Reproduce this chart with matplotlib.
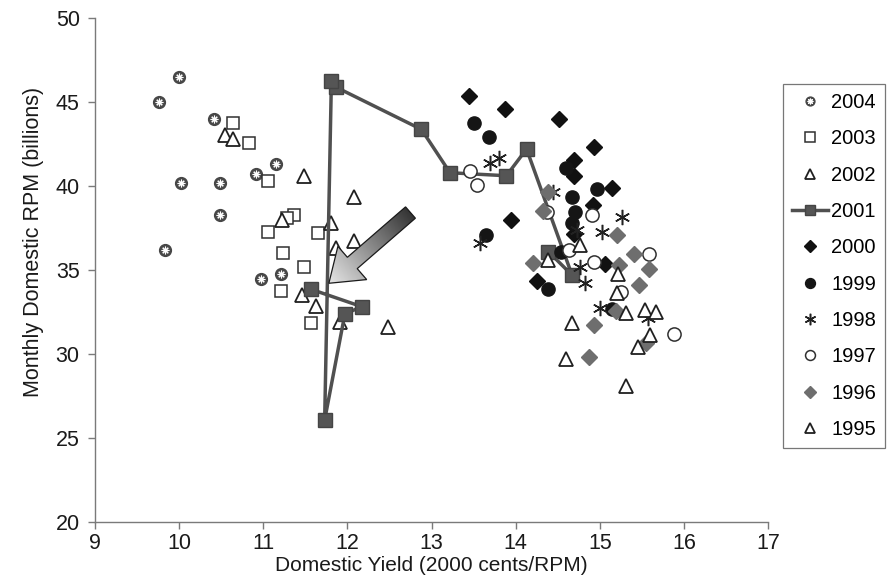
import numpy as np
import matplotlib
matplotlib.use("Agg")
import matplotlib.pyplot as plt
from matplotlib.patches import Polygon
from matplotlib.legend_handler import HandlerTuple

plt.rcParams['font.family'] = ['Liberation Sans', 'DejaVu Sans']

# ---------------- data (yield in 2000 cents/RPM, RPM in billions) ----------------
yield_2004 = [10.0, 9.76, 10.41, 11.15, 10.91, 10.02, 10.48, 10.48, 9.83, 11.21, 10.97]
rpm_2004 = [46.5, 45.0, 44.0, 41.3, 40.7, 40.2, 40.2, 38.3, 36.2, 34.76, 34.45]

yield_2003 = [10.64, 10.83, 11.06, 11.37, 11.28, 11.06, 11.65, 11.23, 11.49, 11.21, 11.57]
rpm_2003 = [43.77, 42.58, 40.3, 38.27, 38.07, 37.28, 37.18, 36.03, 35.2, 33.77, 31.86]

yield_2002 = [10.55, 10.64, 11.48, 12.08, 11.22, 11.81, 12.08, 11.87, 11.46, 11.63, 11.91, 12.48]
rpm_2002 = [43.04, 42.78, 40.6, 39.36, 37.98, 37.8, 36.7, 36.29, 33.51, 32.86, 31.92, 31.63]

yield_2001 = [14.39, 14.67, 14.13, 13.89, 13.22, 12.88, 11.87, 11.81, 11.73, 11.97, 12.17, 11.57]
rpm_2001 = [36.09, 34.7, 42.2, 40.61, 40.79, 43.37, 45.87, 46.27, 26.07, 32.38, 32.82, 33.85]

yield_2000 = [13.45, 13.87, 14.52, 14.93, 14.69, 14.69, 15.14, 14.92, 13.95, 14.69, 15.06, 14.26]
rpm_2000 = [45.38, 44.57, 43.99, 42.34, 41.55, 40.6, 39.9, 38.87, 38.0, 37.15, 35.35, 34.35]

yield_1999 = [13.51, 13.68, 14.6, 14.97, 14.67, 14.71, 14.67, 13.65, 14.54, 14.39, 15.15]
rpm_1999 = [43.73, 42.94, 41.05, 39.8, 39.36, 38.47, 37.78, 37.08, 36.09, 33.87, 32.66]

yield_1998 = [13.70, 13.80, 14.44, 13.58, 15.27, 15.03, 14.73, 14.77, 14.83, 15.0, 15.57]
rpm_1998 = [41.35, 41.65, 39.66, 36.59, 38.17, 37.28, 37.4, 35.2, 34.2, 32.72, 32.13]

yield_1997 = [13.46, 13.54, 14.37, 14.91, 14.63, 14.93, 15.59, 15.25, 15.88]
rpm_1997 = [40.91, 40.06, 38.47, 38.27, 36.19, 35.5, 35.95, 33.7, 31.2]

yield_1996 = [14.38, 14.32, 14.21, 15.21, 15.41, 15.59, 15.23, 15.47, 15.19, 14.93, 14.87, 15.55]
rpm_1996 = [39.66, 38.53, 35.4, 37.08, 35.95, 35.03, 35.3, 34.1, 32.58, 31.73, 29.84, 30.63]

yield_1995 = [14.38, 14.77, 15.22, 15.2, 15.31, 15.54, 15.67, 14.67, 15.6, 15.46, 14.6, 15.31]
rpm_1995 = [35.6, 36.49, 34.75, 33.61, 32.46, 32.62, 32.52, 31.86, 31.13, 30.4, 29.68, 28.1]

labels = ['2004', '2003', '2002', '2001', '2000', '1999', '1998', '1997', '1996', '1995']
x_ticks = [9, 10, 11, 12, 13, 14, 15, 16, 17]
y_ticks = [20, 25, 30, 35, 40, 45, 50]

# arrow annotation (tail -> tip), in data coords
arrow_tail = (12.75, 38.42)
arrow_tip = (11.78, 34.21)

# ---------------- figure ----------------
fig = plt.figure(figsize=(8.88, 5.81), dpi=100)
ax = fig.add_axes([95 / 888, 1 - 522 / 581, 673 / 888, 504 / 581])

axis_gray = '#7a7a7a'
for s in ['top', 'right']:
    ax.spines[s].set_visible(False)
for s in ['left', 'bottom']:
    ax.spines[s].set_color(axis_gray)
    ax.spines[s].set_linewidth(1.0)
ax.tick_params(axis='both', direction='out', length=5, width=1, color=axis_gray,
               labelsize=15.5, labelcolor='#1a1a1a')
ax.tick_params(axis='x', pad=3)
ax.tick_params(axis='y', pad=6)

ms = 9.0
handles = []

# 2004
h1 = ax.plot(yield_2004, rpm_2004, ls='none', marker='o', ms=8.5, mfc='#474747', mec='#474747', zorder=3)[0]
h2 = ax.plot(yield_2004, rpm_2004, ls='none', marker=(8, 2, 0), ms=5.5, mec='white', mew=0.8, zorder=3.1)[0]
handles.append((h1, h2))
# 2003
handles.append(ax.plot(yield_2003, rpm_2003, ls='none', marker='s', ms=ms, mfc='white', mec='#303030', mew=1.1, zorder=4)[0])
# 2002
handles.append(ax.plot(yield_2002, rpm_2002, ls='none', marker='^', ms=ms + 1, mfc='white', mec='#202020', mew=1.3, zorder=5)[0])
# 2001
handles.append(ax.plot(yield_2001, rpm_2001, ls='-', color='#505050', lw=2.5, marker='s', ms=ms + 0.5,
                       mfc='#555555', mec='#444444', zorder=6)[0])
# 2000
handles.append(ax.plot(yield_2000, rpm_2000, ls='none', marker='D', ms=8.5, mfc='#111111', mec='#111111', zorder=7)[0])
# 1999
handles.append(ax.plot(yield_1999, rpm_1999, ls='none', marker='o', ms=9.5, mfc='#151515', mec='#151515', zorder=8)[0])
# 1998
handles.append(ax.plot(yield_1998, rpm_1998, ls='none', marker=(6, 2, 0), ms=11, mec='#222222', mew=1.1, zorder=9)[0])
# 1997
handles.append(ax.plot(yield_1997, rpm_1997, ls='none', marker='o', ms=9.5, mfc='white', mec='#303030', mew=1.1, zorder=10)[0])
# 1996
handles.append(ax.plot(yield_1996, rpm_1996, ls='none', marker='D', ms=8, mfc='#6e6e6e', mec='#6e6e6e', zorder=11)[0])
# 1995
handles.append(ax.plot(yield_1995, rpm_1995, ls='none', marker='^', ms=ms + 1, mfc='white', mec='#202020', mew=1.3, zorder=12)[0])

ax.set_xlim(x_ticks[0], x_ticks[-1])
ax.set_ylim(y_ticks[0], y_ticks[-1])
ax.set_xticks(x_ticks)
ax.set_yticks(y_ticks)
ax.set_xlabel('Domestic Yield (2000 cents/RPM)', fontsize=15, color='#1a1a1a')
ax.xaxis.set_label_coords(0.5, -34 / 504)
ax.set_ylabel('Monthly Domestic RPM (billions)', fontsize=15.5, color='#1a1a1a')
ax.yaxis.set_label_coords(-51 / 673, 0.555)

# ---------------- gradient arrow ----------------
p0 = ax.transData.transform(arrow_tail)
p1 = ax.transData.transform(arrow_tip)
L = np.hypot(*(p1 - p0))
d = (p1 - p0) / L
n = np.array([-d[1], d[0]])
w, hw, hl = 15.0, 44.0, 31.0
neck = p1 - d * hl
poly_disp = np.array([
    p0 + n * w / 2, neck + n * w / 2, neck + n * hw / 2, p1,
    neck - n * hw / 2, neck - n * w / 2, p0 - n * w / 2])
poly_data = ax.transData.inverted().transform(poly_disp)
arrow_patch = Polygon(poly_data, closed=True, facecolor='none', edgecolor='#1a1a1a', lw=0.9, zorder=21)
ax.add_patch(arrow_patch)

xmin, ymin = poly_data.min(axis=0)
xmax, ymax = poly_data.max(axis=0)
gx = np.linspace(xmin, xmax, 200)
gy = np.linspace(ymax, ymin, 200)
GX, GY = np.meshgrid(gx, gy)
disp = ax.transData.transform(np.column_stack([GX.ravel(), GY.ravel()]))
t = ((disp - p0) @ d) / L
t = np.clip(t, 0, 1).reshape(GX.shape)
vals = 0.2 + 0.7 * t
img = ax.imshow(vals, extent=[xmin, xmax, ymin, ymax], cmap='gray', vmin=0, vmax=1,
                aspect='auto', zorder=20, interpolation='bilinear')
clip_patch = Polygon(poly_data, closed=True, transform=ax.transData)
img.set_clip_path(clip_patch)

ax.set_xlim(x_ticks[0], x_ticks[-1])
ax.set_ylim(y_ticks[0], y_ticks[-1])

# ---------------- legend ----------------
leg = fig.legend(handles, labels, loc='center left', bbox_to_anchor=(783 / 888, 1 - 266 / 581),
                 bbox_transform=fig.transFigure, fontsize=14.5, frameon=True, fancybox=False,
                 edgecolor='#555555', borderpad=0.45, labelspacing=0.86, handlelength=1.8,
                 handletextpad=0.15, borderaxespad=0, markerscale=0.75,
                 handler_map={tuple: HandlerTuple(ndivide=1, pad=0)})
leg.get_frame().set_linewidth(0.9)

fig.savefig('out.png', dpi=100)
